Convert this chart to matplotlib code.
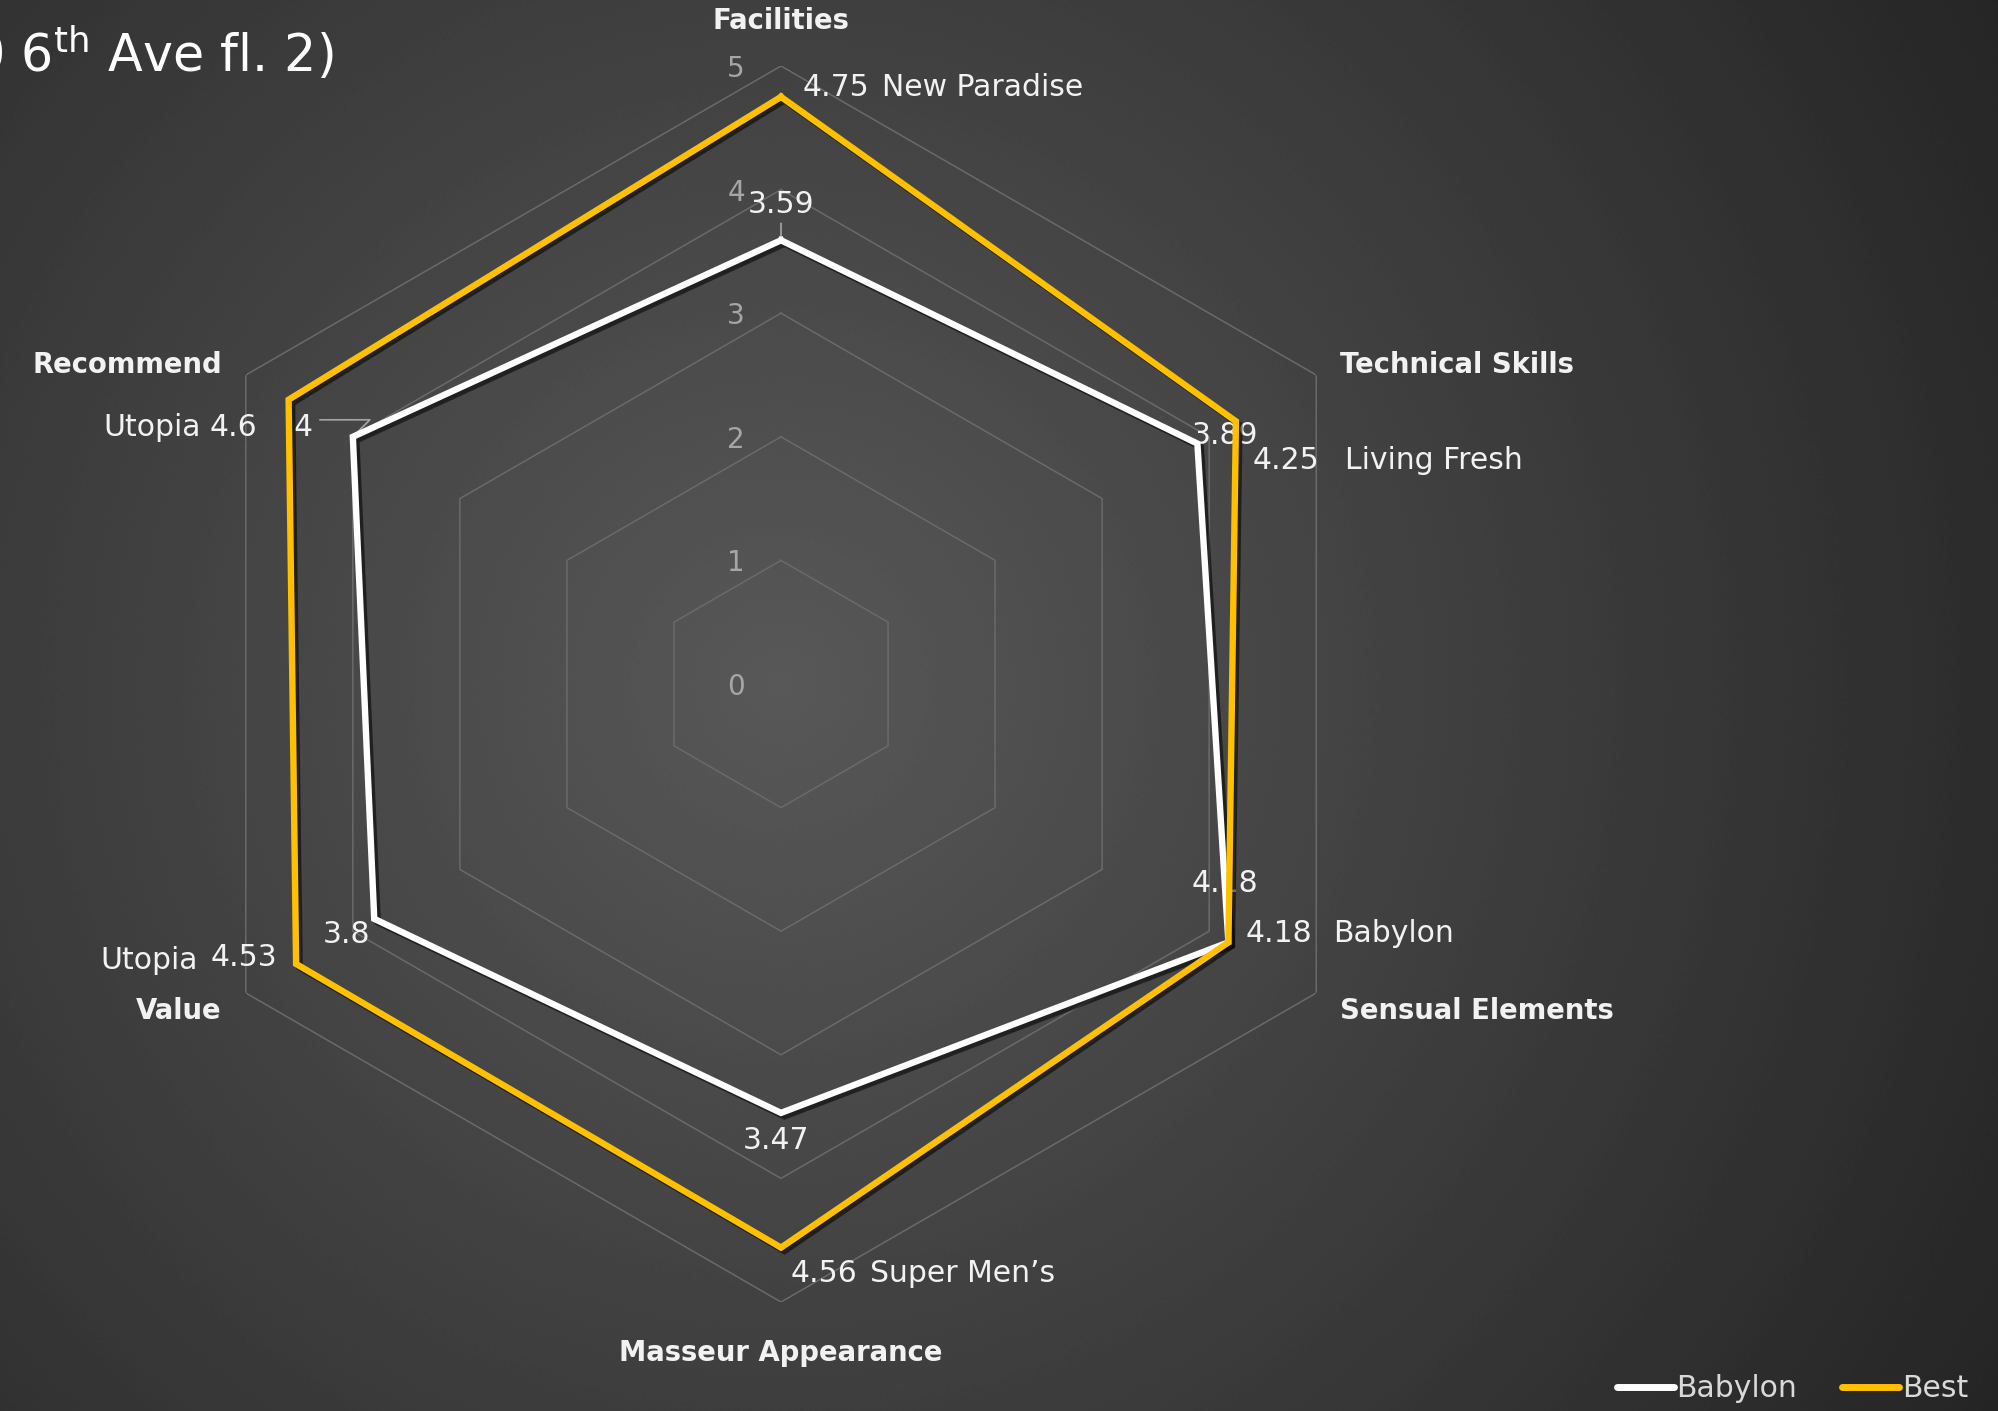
import numpy as np
import matplotlib
matplotlib.use("Agg")
import matplotlib.pyplot as plt
import matplotlib.patheffects as pe

plt.rcParams['font.family'] = ['DejaVu Sans']
plt.rcParams['mathtext.fontset'] = 'dejavusans'

# ---------------- data ----------------
categories = ["Facilities", "Technical Skills", "Sensual Elements",
              "Masseur Appearance", "Value", "Recommend"]
babylon = [3.59, 3.89, 4.18, 3.47, 3.8, 4]
best = [4.75, 4.25, 4.18, 4.56, 4.53, 4.6]
best_names = ["New Paradise", "Living Fresh", "Babylon", "Super Men\u2019s", "Utopia", "Utopia"]
r_ticks = [0, 1, 2, 3, 4, 5]
series_names = ["Babylon", "Best"]
title = "Babylon (1000 6$^{\\mathrm{th}}$ Ave fl. 2)"

# ---------------- style ----------------
W, H = 1998, 1411
DPI = 100
PX = 72.0 / DPI  # points per pixel
GOLD = "#FFC000"
WHITE = "#FFFFFF"
GRID = "#6a6a6a"
TXT = "#F2F2F2"
TICK = "#A6A6A6"

fig = plt.figure(figsize=(W / DPI, H / DPI), dpi=DPI)

# background radial gradient
bg = fig.add_axes([0, 0, 1, 1])
bg.set_axis_off()
yy, xx = np.mgrid[0:H, 0:W]
d = np.hypot(xx - 781, yy - 684)
val = np.clip(88 - 0.036 * d, 34, 90) / 255.0
val = val + (np.random.default_rng(0).random(val.shape) - 0.5) / 255.0  # dither
bg.imshow(val, cmap="gray", vmin=0, vmax=1, aspect="auto",
          extent=[0, 1, 0, 1], interpolation="bilinear")
bg.set_xlim(0, 1)
bg.set_ylim(0, 1)

cx, cy, R = 781, 684, 618
ax = fig.add_axes([(cx - R) / W, (H - cy - R) / H, 2 * R / W, 2 * R / H],
                  projection="polar")
ax.patch.set_alpha(0)
ax.set_theta_zero_location("N")
ax.set_theta_direction(-1)
ax.set_ylim(0, 5)
ax.grid(False)
ax.spines["polar"].set_visible(False)
ax.set_xticks([])
ax.set_yticks([])

n = len(categories)
theta = np.arange(n) * 2 * np.pi / n
theta_c = np.append(theta, theta[0])

# hexagonal grid
for r in r_ticks[1:]:
    ax.plot(theta_c, [r] * (n + 1), color=GRID, lw=1.1, zorder=1)

# tick labels
for r in r_ticks:
    ax.annotate(str(r), xy=(0, r), xytext=(-45 * PX, -3 * PX),
                textcoords="offset points", ha="center", va="center",
                fontsize=20, color=TICK, zorder=2)

shadow = [pe.SimpleLineShadow(offset=(2.5, -2.5), shadow_color="black", alpha=0.55),
          pe.Normal()]

l1, = ax.plot(theta_c, babylon + babylon[:1], color=WHITE, lw=4.6,
              solid_joinstyle="miter", path_effects=shadow, zorder=4,
              label=series_names[0], clip_on=False)
l2, = ax.plot(theta_c, best + best[:1], color=GOLD, lw=4.6,
              solid_joinstyle="miter", path_effects=shadow, zorder=5,
              label=series_names[1], clip_on=False)

FS = 21.5
FSB = 19.8
SH = -3  # global vertical nudge (px)

# axis category labels (offset from the outer ring vertex, pixels)
cat_off = [(0, 48, "center"), (24, 13, "left"), (24, -15, "left"),
           (0, -48, "center"), (-24, -15, "right"), (-24, 13, "right")]
for t, name, (dx, dy, ha) in zip(theta, categories, cat_off):
    ax.annotate(name, xy=(t, 5), xytext=(dx * PX, (dy + SH) * PX),
                textcoords="offset points", ha=ha, va="center",
                fontsize=FSB, fontweight="bold", color=TXT, annotation_clip=False)

# best value labels
best_val_off = [(22, 12, "left"), (17, -36, "left"), (17, 12, "left"),
                (10, -23, "left"), (-19, 9, "right"), (-31, -25, "right")]
best_name_off = [(101, 12, "left"), (109, -36, "left"), (105, 12, "left"),
                 (89, -23, "left"), (-98, 6, "right"), (-88, -25, "right")]
for t, v, nm, (dx, dy, ha), (nx, ny, nha) in zip(theta, best, best_names,
                                                  best_val_off, best_name_off):
    ax.annotate(f"{v:g}", xy=(t, v), xytext=(dx * PX, (dy + SH) * PX),
                textcoords="offset points", ha=ha, va="center",
                fontsize=FS, color=TXT, zorder=6, annotation_clip=False)
    ax.annotate(nm, xy=(t, v), xytext=(nx * PX, (ny + SH) * PX),
                textcoords="offset points", ha=nha, va="center",
                fontsize=FS, color=TXT, zorder=6, annotation_clip=False)

# babylon value labels
bab_off = [(0, 39), (28, 11), (-4, 62), (-5, -25), (-28, -13), (-50, 12)]
for t, v, (dx, dy) in zip(theta, babylon, bab_off):
    ax.annotate(f"{v:g}", xy=(t, v), xytext=(dx * PX, (dy + SH) * PX),
                textcoords="offset points", ha="center", va="center",
                fontsize=FS, color=TXT, zorder=3, annotation_clip=False)

# leader lines
ax.annotate("", xy=(theta[0], babylon[0]), xytext=(0, 17 * PX),
            textcoords="offset points",
            arrowprops=dict(arrowstyle="-", color="#A6A6A6", lw=1.2,
                            shrinkA=0, shrinkB=3 * PX))
ax.annotate("", xy=(theta[5], babylon[5]), xytext=(-33 * PX, 17 * PX),
            textcoords="offset points",
            arrowprops=dict(arrowstyle="-", color="#A6A6A6", lw=1.2,
                            connectionstyle="angle,angleA=0,angleB=45,rad=0",
                            shrinkA=0, shrinkB=3 * PX))

# title (partially outside the figure)
fig.text(334 / W, 1 - 72 / H, title, ha="right", va="baseline",
         fontsize=36.5, color="white")

# legend
leg = fig.legend(handles=[l1, l2], loc="lower right",
                 bbox_to_anchor=(1 - 18 / W, -4 / H), ncol=2, frameon=False,
                 fontsize=21.5, handlelength=1.9, handletextpad=0.1,
                 columnspacing=1.5, borderaxespad=0.0)
for txt in leg.get_texts():
    txt.set_color("#D9D9D9")
for h in leg.legend_handles:
    h.set_path_effects([])
    h.set_linewidth(5)
    h.set_solid_capstyle("round")

fig.savefig("out.png", dpi=DPI)
